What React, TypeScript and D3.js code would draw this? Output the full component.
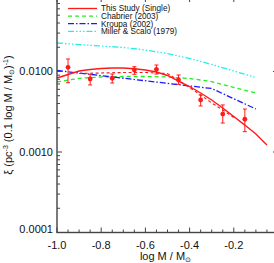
import React from 'react';
import * as d3 from 'd3';

// log M bins and observed xi values (with error bar ends)
const binLogM = [-0.95, -0.85, -0.75, -0.65, -0.55, -0.45, -0.35, -0.25, -0.15];
const binXi = [0.01127, 0.00807, 0.00823, 0.01044, 0.01065, 0.00784, 0.00443, 0.00296, 0.00255];
const binXiHi = [0.0143, 0.00923, 0.0093, 0.01147, 0.01204, 0.00905, 0.0051, 0.00384, 0.00342];
const binXiLo = [0.00726, 0.0068, 0.0072, 0.00923, 0.0093, 0.00693, 0.00373, 0.00229, 0.00179];

// This Study (Single) fit
const fitLogM = [-1.0, -0.95, -0.9, -0.85, -0.8, -0.75, -0.7, -0.65, -0.6, -0.55, -0.5, -0.45, -0.4, -0.35, -0.3, -0.25, -0.2, -0.15, -0.1, -0.05];
const fitXi = [0.0083, 0.00918, 0.01014, 0.01059, 0.0109, 0.01105, 0.01105, 0.01083, 0.01044, 0.00986, 0.00892, 0.00762, 0.00651, 0.00541, 0.00443, 0.00352, 0.00276, 0.00216, 0.00167, 0.00122];

// second (dashed) red curve
const altLogM = [-0.9, -0.8, -0.7, -0.6, -0.5, -0.45, -0.4, -0.35, -0.3, -0.25, -0.2];
const altXi = [0.00944, 0.00958, 0.00972, 0.00972, 0.00944, 0.00773, 0.00633, 0.00511, 0.00406, 0.00333, 0.00268];

// Chabrier (2003)
const chabLogM = [-1.0, -0.9, -0.8, -0.7, -0.6, -0.5, -0.4, -0.3, -0.2, -0.1];
const chabXi = [0.00741, 0.00823, 0.00855, 0.00867, 0.00867, 0.00855, 0.00819, 0.0075, 0.00633, 0.00541];

// Kroupa (2002) broken power law
const kroLogM = [-1.0, -0.3, -0.1];
const kroXi = [0.01029, 0.00615, 0.00342];

// Miller & Scalo (1979)
const msLogM = [-1.0, -0.9, -0.8, -0.7, -0.6, -0.5, -0.4, -0.3, -0.2, -0.1];
const msXi = [0.0226, 0.0216, 0.0207, 0.0199, 0.0185, 0.0167, 0.01449, 0.01222, 0.01014, 0.00842];

const xTicks = [-1.0, -0.8, -0.6, -0.4, -0.2, 0];
const yTicks = [0.0001, 0.001, 0.01];

const legendItems = [
  { label: 'This Study (Single)', color: '#ff1a1a', dash: '' },
  { label: 'Chabrier (2003)', color: '#22ee22', dash: '4,3' },
  { label: 'Kroupa (2002)', color: '#1a1aff', dash: '6,2,1.5,2' },
  { label: 'Miller & Scalo (1979)', color: '#22eeee', dash: '6,2,1.5,2,1.5,2,1.5,2' },
];

const W = 274;
const H = 263;
const left = 57, right = 278, top = -3, bottom = 232.5;
const font = '"Liberation Sans", Arial, Helvetica, sans-serif';
const axisColor = '#444';

export default function App() {
  const x = d3.scaleLinear().domain([-1, 0]).range([left, right]);
  const y = d3.scaleLog().domain([1e-4, 1e-2]).range([bottom, 71.5]);

  const line = (xs: number[], ys: number[]) =>
    d3.line<number>().x((d) => x(d)).y((_, i) => y(ys[i]))(xs) || '';

  const xMinor = d3.range(-1, 0.0001, 0.05).filter((v) => Math.abs(Math.round(v * 5) - v * 5) > 1e-6);
  const yMinor: number[] = [];
  [1e-4, 1e-3, 1e-2].forEach((d) => {
    for (let k = 2; k <= 9; k++) {
      const v = k * d;
      if (y(v) >= top) yMinor.push(v);
    }
  });

  return (
    <svg width={W} height={H} style={{ position: 'absolute', left: 0, top: 0, background: '#fff' }}>
      {/* models */}
      <path d={line(msLogM, msXi)} fill="none" stroke="#22eeee" strokeWidth={1.3} strokeDasharray="6,2,1.5,2,1.5,2,1.5,2" />
      <path d={line(chabLogM, chabXi)} fill="none" stroke="#22ee22" strokeWidth={1.3} strokeDasharray="4,3" />
      <path d={line(kroLogM, kroXi)} fill="none" stroke="#1a1aff" strokeWidth={1.3} strokeDasharray="6,2,1.5,2" />
      <path d={line(altLogM, altXi)} fill="none" stroke="#ff1a1a" strokeWidth={1.2} strokeDasharray="3,2.5" />
      <path d={line(fitLogM, fitXi)} fill="none" stroke="#ff1a1a" strokeWidth={1.4} />

      {/* data points */}
      {binLogM.map((m, i) => (
        <g key={i} stroke="#ff1a1a" strokeWidth={1}>
          <line x1={x(m)} x2={x(m)} y1={y(binXiHi[i])} y2={y(binXiLo[i])} />
          <line x1={x(m) - 2} x2={x(m) + 2} y1={y(binXiHi[i])} y2={y(binXiHi[i])} />
          <line x1={x(m) - 2} x2={x(m) + 2} y1={y(binXiLo[i])} y2={y(binXiLo[i])} />
          <circle cx={x(m)} cy={y(binXi[i])} r={2.4} fill="#ff1a1a" stroke="none" />
        </g>
      ))}

      {/* frame */}
      <rect x={left} y={top} width={right - left} height={bottom - top} fill="none" stroke={axisColor} strokeWidth={1.4} />
      {xTicks.map((t) => (
        <g key={'xt' + t} stroke={axisColor} strokeWidth={1}>
          <line x1={x(t)} x2={x(t)} y1={bottom} y2={bottom - 5} />
          <line x1={x(t)} x2={x(t)} y1={top} y2={top + 5} />
        </g>
      ))}
      {xMinor.map((t) => (
        <g key={'xm' + t} stroke={axisColor} strokeWidth={1}>
          <line x1={x(t)} x2={x(t)} y1={bottom} y2={bottom - 3} />
          <line x1={x(t)} x2={x(t)} y1={top} y2={top + 3} />
        </g>
      ))}
      {yTicks.map((t) => (
        <g key={'yt' + t} stroke={axisColor} strokeWidth={1}>
          <line x1={left} x2={left + 5} y1={y(t)} y2={y(t)} />
          <line x1={right} x2={right - 5} y1={y(t)} y2={y(t)} />
        </g>
      ))}
      {yMinor.map((t) => (
        <g key={'ym' + t} stroke={axisColor} strokeWidth={1}>
          <line x1={left} x2={left + 3} y1={y(t)} y2={y(t)} />
          <line x1={right} x2={right - 3} y1={y(t)} y2={y(t)} />
        </g>
      ))}

      {/* tick labels */}
      <g fontFamily={font} fontSize={11} fill="#111">
        {xTicks.map((t) => (
          <text key={'xl' + t} x={x(t)} y={249} textAnchor="middle">
            {t === 0 ? '0' : d3.format('.1f')(t).replace('−', '-')}
          </text>
        ))}
        {yTicks.map((t) => (
          <text key={'yl' + t} x={53} y={y(t) - (t === 0.0001 ? 3 : 0)} dy="0.35em" textAnchor="end">
            {d3.format('.4f')(t)}
          </text>
        ))}
      </g>

      {/* axis titles */}
      <text x={(left + right) / 2 - 2} y={260} textAnchor="middle" fontFamily={font} fontSize={11} fill="#111">
        log M / M<tspan fontSize={7} dy={2}>⊙</tspan>
      </text>
      <text transform={`translate(12, 115) rotate(-90)`} textAnchor="middle" fontFamily={font} fontSize={11} fill="#111">
        ξ (pc<tspan fontSize={7} dy={-4}>-3</tspan><tspan dy={4}> (0.1 log M / M</tspan>
        <tspan fontSize={7} dy={2}>⊙</tspan><tspan dy={-2}>)</tspan>
        <tspan fontSize={7} dy={-4}>-1</tspan><tspan dy={4}>)</tspan>
      </text>

      {/* legend */}
      <g fontFamily={font} fontSize={8.2} fill="#111">
        {legendItems.map((d, i) => (
          <g key={d.label} transform={`translate(0, ${8.5 + i * 7.6})`}>
            <line x1={68} x2={97} y1={0} y2={0} stroke={d.color} strokeWidth={1.3} strokeDasharray={d.dash} />
            <text x={101} y={0} dy="0.35em">{d.label}</text>
          </g>
        ))}
      </g>
    </svg>
  );
}
